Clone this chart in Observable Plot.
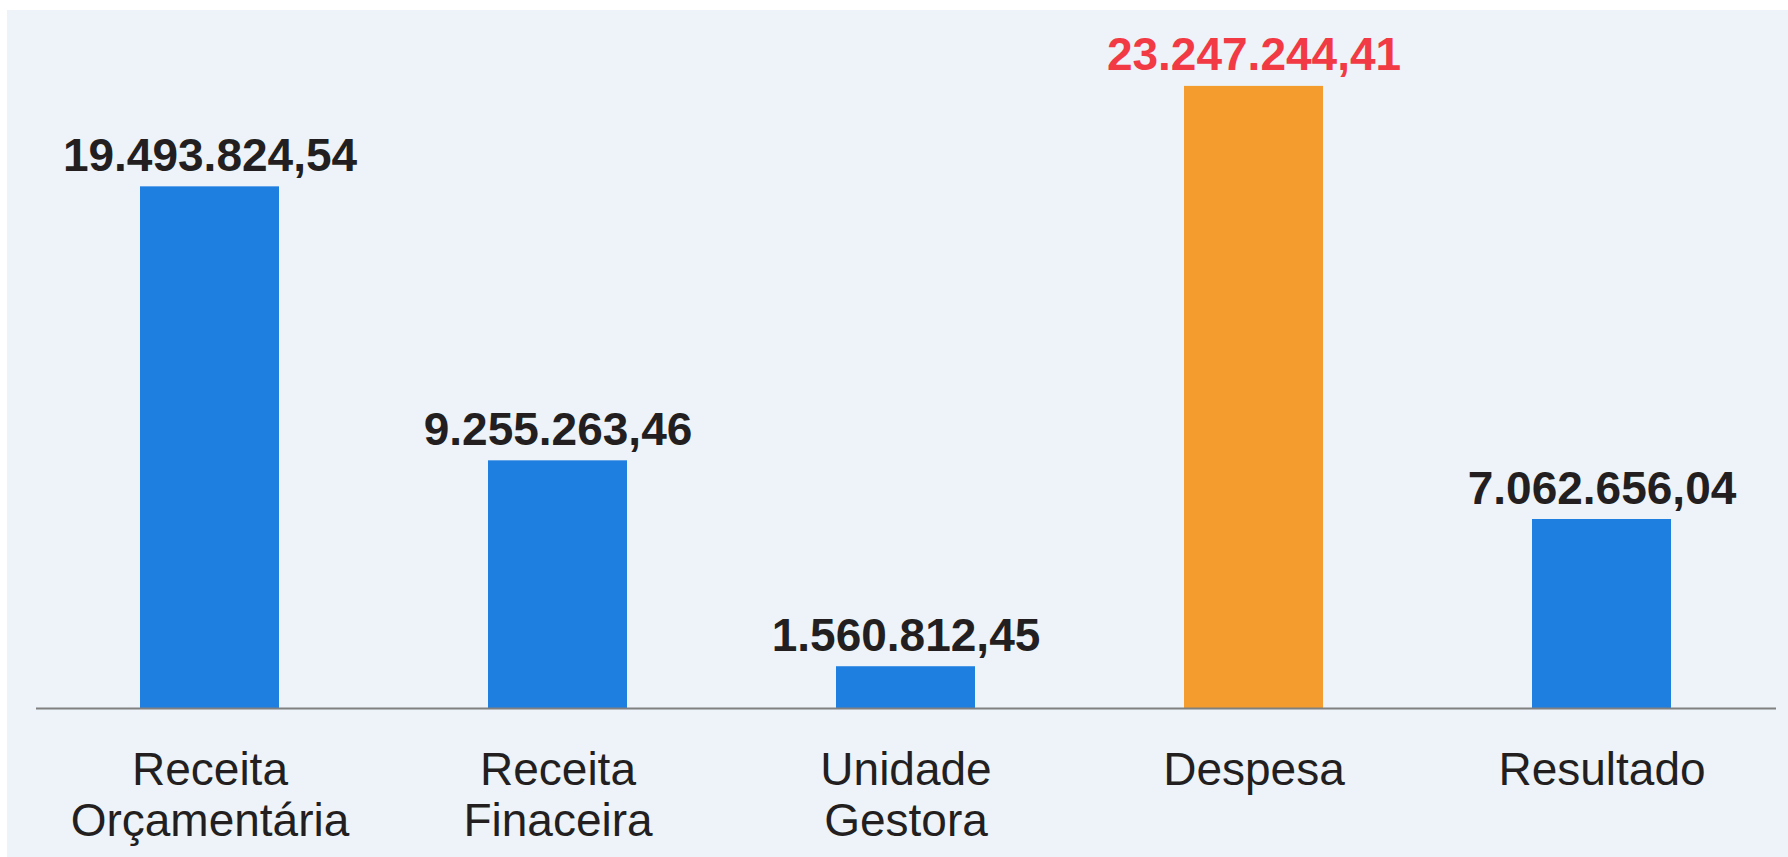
<!DOCTYPE html>
<html>
<head>
<meta charset="utf-8">
<script src="https://cdn.jsdelivr.net/npm/d3@7"></script>
<script src="https://cdn.jsdelivr.net/npm/@observablehq/plot@0.6"></script>
<style>
  html, body { margin: 0; padding: 0; background: #ffffff; }
  #chart svg { display: block; margin: 10px 0 0 7px; background: #edf3f9; }
</style>
</head>
<body>
<div id="chart"></div>
<script>
const categories = ["Receita Orçamentária", "Receita Finaceira", "Unidade Gestora", "Despesa", "Resultado"];
const tickLabels = ["Receita\nOrçamentária", "Receita\nFinaceira", "Unidade\nGestora", "Despesa", "Resultado"];
const values = [19493824.54, 9255263.46, 1560812.45, 23247244.41, 7062656.04];
const barColors = ["#1f7fe0", "#1f7fe0", "#1f7fe0", "#f49c2e", "#1f7fe0"];
const labelColors = ["#231f20", "#231f20", "#231f20", "#f23a45", "#231f20"];

function fmtBR(v) {
  const [i, d] = v.toFixed(2).split(".");
  return i.replace(/\B(?=(\d{3})+(?!\d))/g, ".") + "," + d;
}

const data = categories.map((c, i) => ({
  cat: c, value: values[i], label: fmtBR(values[i]),
  bar: barColors[i], lab: labelColors[i], tick: tickLabels[i]
}));

const chart = Plot.plot({
  width: 1781,
  height: 847,
  marginTop: 29,
  marginBottom: 149,
  marginLeft: 29,
  marginRight: 12,
  style: { fontFamily: "'Liberation Sans', Arial, sans-serif", background: "#edf3f9" },
  x: { domain: categories, paddingInner: 0.6, paddingOuter: 0.3, label: null },
  y: { domain: [0, 25000000], axis: null },
  marks: [
    Plot.barY(data, { x: "cat", y: "value", fill: "bar" }),
    Plot.ruleY([0], { stroke: "#808080", strokeWidth: 2 }),
    Plot.text(data, {
      x: "cat", y: "value", text: "label", fill: "lab",
      fontSize: 46, fontWeight: "bold", lineAnchor: "bottom", dy: -16
    }),
    Plot.axisX({
      tickSize: 0, tickPadding: 41, fontSize: 46, lineHeight: 1.1,
      lineAnchor: "top", fill: "#231f20",
      tickFormat: (c) => tickLabels[categories.indexOf(c)], label: null
    })
  ]
});
document.getElementById("chart").appendChild(chart);
</script>
</body>
</html>
